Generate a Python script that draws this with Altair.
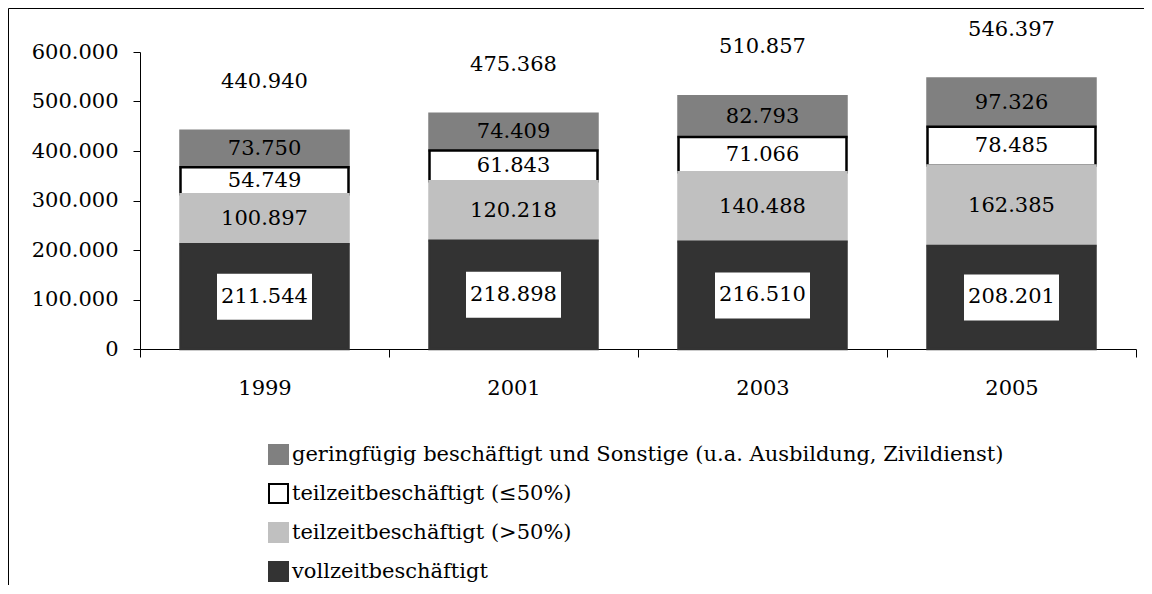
import altair as alt
import pandas as pd

years = ["1999", "2001", "2003", "2005"]
vollzeit = [211544, 218898, 216510, 208201]
teilzeit_gt50 = [100897, 120218, 140488, 162385]
teilzeit_le50 = [54749, 61843, 71066, 78485]
geringfuegig = [73750, 74409, 82793, 97326]

categories = [
    "geringfügig beschäftigt und Sonstige (u.a. Ausbildung, Zivildienst)",
    "teilzeitbeschäftigt (≤50%)",
    "teilzeitbeschäftigt (>50%)",
    "vollzeitbeschäftigt",
]
fills = ["#808080", "#ffffff", "#c0c0c0", "#333333"]
strokes = ["#808080", "#000000", "#c0c0c0", "#333333"]
y_ticks = [0, 100000, 200000, 300000, 400000, 500000, 600000]

series = [geringfuegig, teilzeit_le50, teilzeit_gt50, vollzeit]
stack_order = [3, 2, 1, 0]
rows = []
for cat, vals, o in zip(categories, series, stack_order):
    for yr, v in zip(years, vals):
        rows.append({"year": yr, "cat": cat, "value": v, "ord": o})
df = pd.DataFrame(rows)

FONT = "DejaVu Serif"
FS = 21


def fmt(field):
    return f"replace(format(datum.{field}, ','), regexp(',', 'g'), '.')"


xaxis = alt.Axis(labelAngle=0, tickBand="extent", tickSize=8, labelPadding=20,
                 domainColor="black", tickColor="black", labelColor="black",
                 labelFont=FONT, labelFontSize=FS, grid=False)
yaxis = alt.Axis(values=y_ticks, labelExpr=fmt("value"), tickSize=7, labelPadding=15,
                 domainColor="black", tickColor="black", labelColor="black",
                 labelFont=FONT, labelFontSize=FS, grid=False)

xenc = alt.X("year:N", title=None, sort=years,
             scale=alt.Scale(paddingInner=0, paddingOuter=0), axis=xaxis)


def yenc(field, **kw):
    return alt.Y(f"{field}:Q", title=None, scale=alt.Scale(domain=[0, 600000], nice=False),
                 axis=yaxis, **kw)


legend = alt.Legend(title=None, orient="none", legendX=128, legendY=392,
                    direction="vertical", symbolType="square", symbolSize=361,
                    symbolStrokeWidth=2, labelFont=FONT, labelFontSize=FS,
                    labelColor="black", labelOffset=3, rowPadding=12, padding=0,
                    labelLimit=1000, symbolOpacity=1)

base = alt.Chart(df)

bars = base.mark_bar(width=alt.RelativeBandSize(168 / 249), strokeWidth=2.5, opacity=1).encode(
    x=xenc,
    y=yenc("value", stack="zero"),
    fill=alt.Fill("cat:N", scale=alt.Scale(domain=categories, range=fills), legend=legend),
    stroke=alt.Stroke("cat:N", scale=alt.Scale(domain=categories, range=strokes), legend=legend),
    order=alt.Order("ord:Q", sort="ascending"),
)

stacked = base.transform_stack(
    stack="value", groupby=["year"], sort=[alt.SortField("ord", order="ascending")],
    as_=["v0", "v1"],
).transform_calculate(mid="(datum.v0 + datum.v1) / 2", lbl=fmt("value"))

boxes = stacked.transform_filter("datum.ord == 0").mark_point(
    shape="M-1,-0.484L1,-0.484L1,0.484L-1,0.484Z", size=9025, filled=True,
    fill="white", opacity=1, strokeWidth=0,
).encode(x=xenc, y=yenc("mid"))

seg_text = stacked.mark_text(font=FONT, fontSize=FS, color="black", baseline="middle").encode(
    x=xenc, y=yenc("mid"), text="lbl:N"
)

totals = base.transform_aggregate(total="sum(value)", groupby=["year"]).transform_calculate(
    lbl=fmt("total")
).mark_text(font=FONT, fontSize=FS, color="black", baseline="middle", dy=-49).encode(
    x=xenc, y=yenc("total"), text="lbl:N"
)

frame = pd.DataFrame({"k": [0]})
top_line = alt.Chart(frame).mark_rule(color="black", strokeWidth=1).encode(
    x=alt.value(-131.5), x2=alt.value(1004), y=alt.value(-43.5)
)
left_line = alt.Chart(frame).mark_rule(color="black", strokeWidth=1).encode(
    x=alt.value(-131.5), y=alt.value(-43.5), y2=alt.value(600)
)

chart = alt.layer(bars, boxes, seg_text, totals, top_line, left_line).properties(
    width=996, height=297,
    autosize=alt.AutoSizeParams(type="none"),
    padding={"left": 132, "top": 44, "right": 8, "bottom": 236},
).configure_view(strokeOpacity=0)

chart.save("out.html", embed_options={"renderer": "svg", "actions": False})
